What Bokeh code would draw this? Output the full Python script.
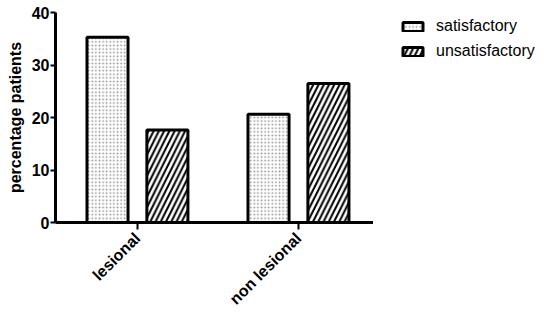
import numpy as np
from bokeh.plotting import figure
from bokeh.layouts import row
from bokeh.models import ColumnDataSource, FixedTicker, Legend, LegendItem, Range1d
from bokeh.embed import file_html
from bokeh.resources import INLINE

categories = ["lesional", "non lesional"]
series_names = ["satisfactory", "unsatisfactory"]
satisfactory = [35.3, 20.6]
unsatisfactory = [17.6, 26.5]
y_ticks = [0, 10, 20, 30, 40]

xpos = np.arange(1, len(categories) + 1)
offset = 0.186
bw = 0.255

sat_style = dict(fill_color="white", line_color="black", line_width=3, hatch_pattern="dot",
                 hatch_color="#909090", hatch_scale=3.6, hatch_weight=1.1)
uns_style = dict(fill_color="white", line_color="black", line_width=3,
                 hatch_pattern="right_diagonal_line", hatch_color="black",
                 hatch_scale=10.5, hatch_weight=2)

p = figure(width=373, height=316, output_backend="svg", toolbar_location=None,
           x_range=Range1d(0.491, 2.466), y_range=Range1d(0, 40),
           min_border_left=55, min_border_right=0, min_border_top=12, min_border_bottom=91)
p.outline_line_color = None
p.grid.grid_line_color = None

src_s = ColumnDataSource(dict(x=xpos - offset, top=satisfactory))
src_u = ColumnDataSource(dict(x=xpos + offset, top=unsatisfactory))

r1 = p.vbar(x="x", top="top", width=bw, source=src_s, **sat_style)
r2 = p.vbar(x="x", top="top", width=bw, source=src_u, **uns_style)

font = "Liberation Sans"
ya = p.yaxis[0]
ya.ticker = FixedTicker(ticks=y_ticks)
ya.axis_label = "percentage patients"
ya.axis_label_text_font = font
ya.axis_label_text_font_style = "bold"
ya.axis_label_text_font_size = "16px"
ya.axis_label_text_color = "black"
ya.axis_label_standoff = 5
ya.major_label_text_font = font
ya.major_label_text_font_style = "bold"
ya.major_label_text_font_size = "16px"
ya.major_label_text_color = "black"
ya.axis_line_width = 3
ya.major_tick_line_width = 2
ya.major_tick_out = 5
ya.major_tick_in = 0
ya.minor_tick_line_color = None
ya.major_label_standoff = 1

xa = p.xaxis[0]
xa.ticker = FixedTicker(ticks=list(xpos))
xa.major_label_overrides = {int(x): c for x, c in zip(xpos, categories)}
xa.major_label_orientation = np.pi / 4
xa.major_label_text_font = font
xa.major_label_text_font_style = "bold"
xa.major_label_text_font_size = "16px"
xa.major_label_text_color = "black"
xa.axis_line_width = 3
xa.major_tick_line_width = 2
xa.major_tick_out = 7
xa.major_tick_in = 0
xa.minor_tick_line_color = None
xa.major_label_standoff = 6

# legend panel: a second figure with hidden renderers that share the data sources
lg = figure(width=175, height=316, output_backend="svg", toolbar_location=None,
            x_range=Range1d(0, 1), y_range=Range1d(0, 40),
            x_axis_type=None, y_axis_type=None,
            min_border_left=23, min_border_top=12, min_border_right=0, min_border_bottom=91)
lg.outline_line_color = None
lg.grid.grid_line_color = None
l1 = lg.vbar(x="x", top="top", width=bw, source=src_s, visible=False, **sat_style)
l2 = lg.vbar(x="x", top="top", width=bw, source=src_u, visible=False, **uns_style)

legend = Legend(items=[LegendItem(label=series_names[0], renderers=[l1]),
                       LegendItem(label=series_names[1], renderers=[l2])],
                location="top_left")
legend.border_line_color = None
legend.background_fill_alpha = 0
legend.inactive_fill_alpha = 0
legend.padding = 0
legend.margin = 4
legend.spacing = 5
legend.glyph_width = 25
legend.glyph_height = 11
legend.label_height = 20
legend.label_standoff = 11
legend.label_text_font = font
legend.label_text_font_size = "16px"
legend.label_text_color = "black"
lg.add_layout(legend)

layout = row(p, lg, spacing=0)
open("out.html", "w").write(file_html(layout, INLINE))
